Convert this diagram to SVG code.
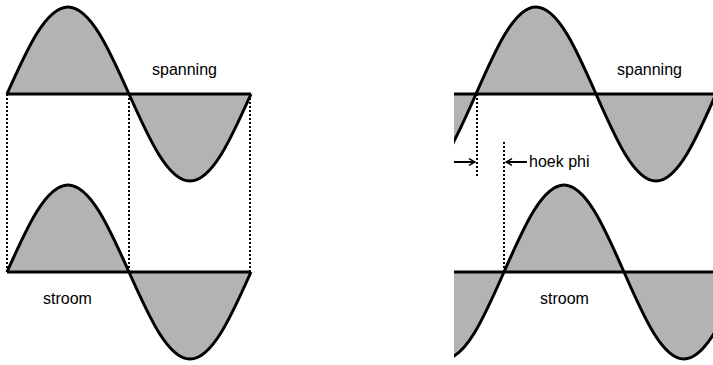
<svg xmlns="http://www.w3.org/2000/svg" width="713" height="365" viewBox="0 0 713 365">
<style>
.fill{fill:#b3b3b3;stroke:none}
.wave{fill:none;stroke:#000;stroke-width:3;stroke-linejoin:round}
.axis{stroke:#000;stroke-width:3}
.dot{stroke:#000;stroke-width:2;stroke-dasharray:2 2;fill:none}
.arr{stroke:#000;stroke-width:2;fill:none}
.lbl{font-family:"Liberation Sans",Arial,sans-serif;font-size:16px;fill:#000}
</style>
<defs>
<clipPath id="clipR"><rect x="454" y="0" width="259" height="365"/></clipPath>
<marker id="ah" viewBox="0 0 10 10" refX="9" refY="5" markerWidth="5" markerHeight="5" orient="auto" markerUnits="userSpaceOnUse">
<polyline points="1,1 9,5 1,9" fill="none" stroke="#000" stroke-width="2"/>
</marker>
<marker id="ah2" viewBox="0 0 12 12" refX="11" refY="6" markerWidth="9" markerHeight="9" orient="auto" markerUnits="userSpaceOnUse">
<polyline points="3,1.5 11,6 3,10.5" fill="none" stroke="#000" stroke-width="2"/>
</marker>
</defs>

<g id="connectors">
<line class="dot" x1="7" y1="94" x2="7" y2="272"/>
<line class="dot" x1="129" y1="94" x2="129" y2="272"/>
<line class="dot" x1="250" y1="94" x2="250" y2="272"/>
<line class="dot" x1="477" y1="94" x2="477" y2="178"/>
<line class="dot" x1="504" y1="142" x2="504" y2="272"/>
<line class="arr" x1="454" y1="162" x2="475" y2="162" marker-end="url(#ah2)"/>
<line class="arr" x1="527" y1="162" x2="506" y2="162" marker-end="url(#ah2)"/>
</g>

<g id="left-voltage">
<path class="fill" d="M7,94 C26.89,49.43 45.92,7 68,7 C90.08,7 109.11,49.43 129,94 C148.89,138.57 167.92,181 190,181 C212.08,181 231.11,138.57 251,94 Z"/>
<path class="wave" d="M7,94 C26.89,49.43 45.92,7 68,7 C90.08,7 109.11,49.43 129,94 C148.89,138.57 167.92,181 190,181 C212.08,181 231.11,138.57 251,94"/>
<line class="axis" x1="7" y1="94" x2="251" y2="94"/>
<text class="lbl" x="152" y="75">spanning</text>
</g>

<g id="left-current">
<path class="fill" d="M7,272 C26.89,227.43 45.92,185 68,185 C90.08,185 109.11,227.43 129,272 C148.89,316.57 167.92,359 190,359 C212.08,359 231.11,316.57 251,272 Z"/>
<path class="wave" d="M7,272 C26.89,227.43 45.92,185 68,185 C90.08,185 109.11,227.43 129,272 C148.89,316.57 167.92,359 190,359 C212.08,359 231.11,316.57 251,272"/>
<line class="axis" x1="7" y1="272" x2="251" y2="272"/>
<text class="lbl" x="43" y="304">stroom</text>
</g>

<g id="right-voltage" clip-path="url(#clipR)">
<path class="fill" d="M356,94 C375.57,138.57 394.28,181 416,181 C437.72,181 456.43,138.57 476,94 C495.57,49.43 514.28,7 536,7 C557.72,7 576.43,49.43 596,94 C615.57,138.57 634.28,181 656,181 C677.72,181 696.43,138.57 716,94 Z"/>
<path class="wave" d="M356,94 C375.57,138.57 394.28,181 416,181 C437.72,181 456.43,138.57 476,94 C495.57,49.43 514.28,7 536,7 C557.72,7 576.43,49.43 596,94 C615.57,138.57 634.28,181 656,181 C677.72,181 696.43,138.57 716,94"/>
<line class="axis" x1="454" y1="94" x2="713" y2="94"/>
</g>
<text class="lbl" x="617" y="75">spanning</text>

<g id="right-current" clip-path="url(#clipR)">
<path class="fill" d="M384,272 C403.57,316.57 422.28,359 444,359 C465.72,359 484.43,316.57 504,272 C523.57,227.43 542.28,185 564,185 C585.72,185 604.43,227.43 624,272 C643.57,316.57 662.28,359 684,359 C705.72,359 724.43,316.57 744,272 Z"/>
<path class="wave" d="M384,272 C403.57,316.57 422.28,359 444,359 C465.72,359 484.43,316.57 504,272 C523.57,227.43 542.28,185 564,185 C585.72,185 604.43,227.43 624,272 C643.57,316.57 662.28,359 684,359 C705.72,359 724.43,316.57 744,272"/>
<line class="axis" x1="454" y1="272" x2="713" y2="272"/>
</g>
<text class="lbl" x="540" y="304">stroom</text>

<text class="lbl" x="529" y="167" font-size="15">hoek phi</text>
</svg>
